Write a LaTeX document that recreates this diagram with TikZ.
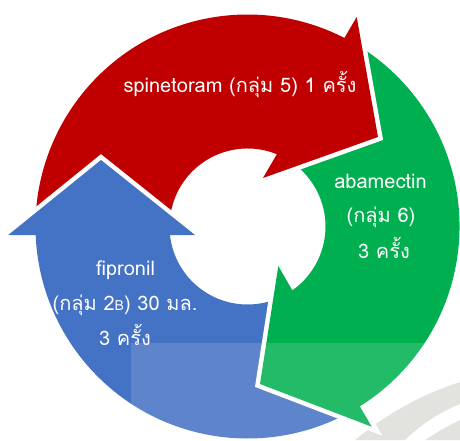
\documentclass[tikz,border=0pt]{standalone}
\usepackage{fontspec}
\newfontfamily\thaifont[Script=Thai]{Loma}
\definecolor{redA}{RGB}{192,0,0}
\definecolor{greenA}{RGB}{0,176,80}
\definecolor{blueA}{RGB}{68,114,196}
\definecolor{grayband}{RGB}{222,223,217}
\begin{document}
\begin{tikzpicture}[x=1pt,y=1pt,
  arrowshape/.style={fill=#1, preaction={draw=white, line width=9pt, line join=miter, miter limit=10}},
  lbl/.style={text=white, font=\thaifont\fontsize{20}{24}\selectfont, anchor=base, inner sep=0pt}]
\useasboundingbox (0,0) rectangle (460,440);
% background bands
\fill[grayband] (355,0) .. controls (385,25) and (420,45) .. (460,58) -- (460,36) .. controls (440,28) and (420,15) .. (405,0) -- cycle;
\fill[grayband] (425,0) .. controls (437,8) and (448,14) .. (460,20) -- (460,0) -- cycle;
\begin{scope}[shift={(247.5,213.5)}]
  \coordinate (C) at (0,0);
  % green
  \fill[arrowshape=greenA] (78:212) arc[start angle=78,end angle=-58,radius=212] -- (124.2,-200.2) -- (12.5,-157.5) -- (30.8,-39.5) -- (-54.9:78) arc[start angle=-54.9,end angle=78,radius=78] -- cycle;
  % red
  \fill[arrowshape=redA] (192:212) arc[start angle=192,end angle=62.8,radius=212] -- (109.2,209.5) -- (130.5,89.5) -- (15.5,48.5) -- (67.9:78) arc[start angle=67.9,end angle=192,radius=78] -- cycle;
  % blue
  \fill[arrowshape=blueA] (-48:212) arc[start angle=-48,end angle=-177.7,radius=212] -- (-239.2,-8.5) -- (-146.5,66.5) -- (-52.5,-8.5) -- (-173.74:78) arc[start angle=-173.74,end angle=-48,radius=78] -- cycle;
  % green head again on top of blue tail
  \begin{scope}
    \clip (-47.5,-240) rectangle (230,-23.5);
    \fill[arrowshape=greenA] (78:212) arc[start angle=78,end angle=-58,radius=212] -- (124.2,-200.2) -- (12.5,-157.5) -- (30.8,-39.5) -- (-54.9:78) arc[start angle=-54.9,end angle=78,radius=78] -- cycle;
  \end{scope}
\end{scope}
% translucent overlay
\fill[white, opacity=0.14] (131,0) rectangle (460,97);
% labels
\node[lbl] (t1) at (240,348) {spinetoram (กลุ่ม 5) 1 ครั้ง};
\node[lbl] (t2) at (380.5,251.7) {abamectin};
\node[lbl] (t3) at (381,217.3) {(กลุ่ม 6)};
\node[lbl] (t4) at (384,181.7) {3 ครั้ง};
\node[lbl] (t5) at (125.5,165) {fipronil};
\node[lbl] (t6) at (125,130) {(กลุ่ม 2{\fontsize{14}{14}\selectfont B}) 30 มล.};
\node[lbl] (t7) at (125,95) {3 ครั้ง};
\end{tikzpicture}
\end{document}
